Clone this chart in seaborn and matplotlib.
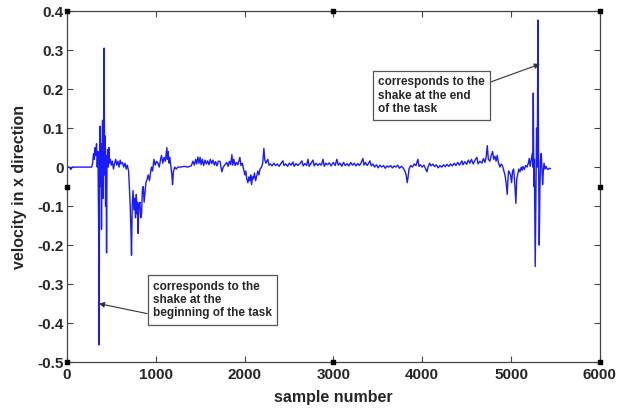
import matplotlib
matplotlib.use("Agg")
import matplotlib.pyplot as plt
import seaborn as sns
import pandas as pd

# samples / velocity, split by region
rest_x = [0, 30, 45, 60, 100, 200, 280]
rest_v = [0, 0, -0.006, 0, 0, 0, 0]

start_x = [290, 300, 310, 318, 326, 334, 342, 350, 358, 364, 368, 372, 378, 385, 390, 396,
           402, 408, 414, 420, 425, 430, 436, 442, 447, 452, 458, 465, 473, 480, 490, 500,
           512, 525, 538, 550, 562, 575, 588, 600, 612, 625, 640, 655, 668, 680]
start_v = [0.01, 0.035, 0.02, 0.05, 0.03, 0.06, 0.0, 0.04, -0.15, -0.456, 0.0, 0.105,
           -0.05, 0.06, -0.16, 0.02, 0.12, -0.08, 0.05, 0.305, -0.02, 0.08, -0.1, 0.03,
           -0.22, 0.01, 0.045, 0.0, 0.05, 0.01, 0.02, 0.005, 0.015, -0.005, 0.01, 0.02,
           0.005, 0.015, 0.0, 0.018, 0.008, 0.012, 0.0, 0.01, -0.005, 0.005]

dip_x = [695, 710, 720, 728, 736, 745, 755, 765, 773, 782, 790, 797, 803, 810, 822, 832,
         841, 850, 860, 870, 878, 890, 905, 916, 930, 945, 953, 965, 980, 995, 1010, 1025,
         1040, 1055, 1066, 1080, 1095, 1108, 1118, 1126, 1132, 1140, 1150, 1160, 1172,
         1182, 1190, 1200, 1215, 1230, 1250]
dip_v = [-0.01, -0.08, -0.15, -0.226, -0.1, -0.06, -0.11, -0.08, -0.13, -0.07, -0.12,
         -0.09, -0.17, -0.1, -0.09, -0.13, -0.12, -0.06, -0.05, -0.09, -0.07, -0.04, -0.03,
         -0.02, -0.035, -0.01, 0.0, -0.01, 0.02, 0.005, 0.015, 0.01, 0.0, 0.02, 0.03, 0.01,
         0.025, 0.015, 0.035, 0.05, 0.02, 0.04, 0.01, 0.025, 0.0, -0.02, -0.045, -0.01,
         0.0, -0.005, 0.0]

mid_x = [1280, 1320, 1360, 1400, 1419, 1435, 1450, 1462, 1475, 1488, 1500, 1512, 1525,
         1540, 1555, 1570, 1585, 1600, 1615, 1630, 1645, 1660, 1675, 1690, 1705, 1723,
         1735, 1745, 1760, 1780, 1800, 1815, 1830, 1845, 1858, 1868, 1880, 1895, 1910,
         1925, 1948, 1960, 1975, 1990, 2004, 2015, 2025, 2038, 2050, 2060, 2070, 2079,
         2090, 2100, 2112, 2125, 2140, 2150, 2162, 2175, 2192, 2205, 2218, 2228, 2240,
         2252, 2263, 2275, 2290, 2310, 2330, 2350, 2370, 2390, 2410, 2432, 2445, 2465,
         2485, 2505, 2525, 2545, 2560, 2580, 2600, 2620, 2646, 2660, 2680, 2700, 2714,
         2728, 2745, 2770, 2785, 2805, 2825, 2845, 2865, 2883, 2898, 2915, 2935, 2955,
         2975]
mid_v = [0, 0.002, 0, 0.003, 0.015, 0.005, 0.02, 0.008, 0.026, 0.01, 0.025, 0.006, 0.02,
         0.004, 0.018, 0.008, 0.016, 0.006, 0.02, 0.009, 0.018, 0.005, 0.014, 0.003, 0.015,
         0.015, 0.0, -0.012, 0.0, 0.006, 0.012, 0.002, 0.015, 0.006, 0.032, 0.005, 0.02,
         0.004, 0.012, 0.006, 0.025, 0.004, 0.01, -0.005, -0.02, -0.01, -0.03, -0.04,
         -0.025, -0.035, -0.02, -0.045, -0.025, -0.03, -0.015, -0.035, -0.02, -0.01,
         -0.02, -0.005, 0.0, 0.01, 0.048, 0.02, 0.01, 0.015, 0.02, 0.005, 0.008, 0.003,
         0.01, 0.004, 0.008, 0.002, 0.009, 0.016, 0.004, 0.008, 0.002, 0.01, 0.005, 0.013,
         0.002, 0.009, 0.004, 0.008, 0.016, 0.003, 0.009, 0.004, 0.02, 0.002, 0.008, 0.018,
         0.003, 0.01, 0.004, 0.009, 0.005, 0.02, 0.002, 0.01, 0.006, 0.011, 0.003]

late_x = [3000, 3020, 3040, 3055, 3075, 3095, 3115, 3135, 3155, 3175, 3195, 3215, 3235,
          3255, 3275, 3295, 3315, 3333, 3345, 3362, 3380, 3398, 3412, 3428, 3445, 3465,
          3485, 3505, 3525, 3545, 3565, 3585, 3605, 3625, 3645, 3665, 3685, 3705, 3725,
          3745, 3765, 3785, 3805, 3820, 3832, 3842, 3852, 3870, 3890, 3910, 3930, 3952,
          3965, 3980, 4000, 4020, 4040, 4054, 4068, 4085, 4100, 4120, 4140, 4160, 4180,
          4200, 4220, 4240, 4260, 4280, 4300, 4320, 4340, 4360, 4380, 4400, 4420, 4447,
          4460, 4480, 4500, 4520, 4537, 4555, 4575, 4595, 4616, 4630, 4650, 4673, 4690,
          4707]
late_v = [0.012, 0.004, 0.02, 0.005, 0.01, 0.002, 0.012, 0.004, 0.009, 0.003, 0.012,
          0.005, 0.01, 0.003, 0.009, 0.004, 0.012, 0.022, 0.005, 0.012, 0.004, 0.01, 0.016,
          0.003, 0.008, 0.0, 0.006, -0.002, 0.005, 0.0, 0.004, -0.003, 0.003, 0.0, 0.004,
          -0.002, 0.003, 0.0, 0.005, -0.003, 0.002, -0.002, -0.01, -0.02, -0.04, -0.025,
          -0.005, 0.004, 0.0, 0.008, 0.004, 0.02, 0.002, 0.006, 0.0, 0.005, -0.005, -0.012,
          0.002, 0.01, 0.003, 0.008, 0.001, 0.006, -0.002, 0.004, 0.0, 0.006, 0.001, 0.007,
          0.002, 0.008, 0.003, 0.01, 0.004, 0.012, 0.005, 0.016, 0.006, 0.014, 0.007, 0.018,
          0.01, 0.02, 0.008, 0.018, 0.025, 0.008, 0.015, 0.01, 0.022, 0.012]

end_x = [4720, 4733, 4745, 4763, 4778, 4793, 4805, 4819, 4832, 4845, 4860, 4876, 4890,
         4905, 4920, 4932, 4945, 4958, 4966, 4973, 4985, 4995, 5007, 5018, 5030, 5045,
         5055, 5065, 5075, 5088, 5101, 5115, 5125, 5135, 5150, 5165, 5180, 5195, 5206,
         5215, 5225, 5240, 5246, 5251, 5257, 5263, 5273, 5280, 5288, 5296, 5303, 5310,
         5318, 5326, 5333, 5341, 5348, 5356, 5364, 5372, 5382, 5393, 5405, 5419, 5432,
         5446]
end_v = [0.025, 0.055, 0.02, 0.015, 0.03, 0.04, 0.02, 0.028, 0.015, 0.03, 0.01, 0.0,
         0.008, 0.003, -0.01, -0.02, -0.04, -0.07, -0.03, -0.01, -0.015, -0.02, -0.04,
         -0.01, -0.005, -0.05, -0.093, -0.03, -0.02, -0.005, -0.012, 0.0, -0.008, 0.002,
         -0.006, 0.004, 0.0, 0.01, 0.022, 0.002, 0.015, 0.035, 0.0, 0.19, -0.05, 0.02,
         -0.255, -0.1, 0.1, 0.0, 0.377, 0.05, -0.2, -0.05, 0.02, 0.035, 0.0, -0.045, -0.01,
         0.01, -0.005, 0.002, -0.004, -0.006, -0.003, -0.004]

xticks = [0, 1000, 2000, 3000, 4000, 5000, 6000]
yticks = [-0.5, -0.4, -0.3, -0.2, -0.1, 0, 0.1, 0.2, 0.3, 0.4]
ytick_labels = ["-0.5", "-0.4", "-0.3", "-0.2", "-0.1", "0", "0.1", "0.2", "0.3", "0.4"]

note_start = "corresponds to the\nshake at the\nbeginning of the task"
note_end = "corresponds to the\nshake at the end\nof the task"

df = pd.DataFrame({
    "sample": rest_x + start_x + dip_x + mid_x + late_x + end_x,
    "velocity": rest_v + start_v + dip_v + mid_v + late_v + end_v,
})

sns.set_style("ticks")
plt.rcParams["font.family"] = ["Liberation Sans", "DejaVu Sans"]
plt.rcParams["font.weight"] = "bold"

fig = plt.figure(figsize=(6.19, 4.11), dpi=100)
ax = fig.add_axes([0.108, 0.119, 0.861, 0.854])

sns.lineplot(data=df, x="sample", y="velocity", estimator=None, sort=False,
             color="#1a1aff", linewidth=1.0, ax=ax)

ax.set_xlim(0, 6000)
ax.set_ylim(-0.5, 0.4)
ax.set_xticks(xticks)
ax.set_xticklabels([str(t) for t in xticks])
ax.set_yticks(yticks)
ax.set_yticklabels(ytick_labels)
ax.tick_params(direction="in", length=4, width=0.8, top=True, right=True,
               labelsize=11, pad=2, color="#444444")
ax.tick_params(axis="x", pad=4)
for lab in ax.get_xticklabels() + ax.get_yticklabels():
    lab.set_fontweight("bold")
for sp in ax.spines.values():
    sp.set_visible(True)
    sp.set_color("#444444")
    sp.set_linewidth(0.9)

ax.set_xlabel("sample number", fontsize=11.5, fontweight="bold", labelpad=6)
ax.set_ylabel("velocity in x direction", fontsize=11.5, fontweight="bold", labelpad=8)

# MATLAB selection handles on the frame
xmid = sum(ax.get_xlim()) / 2
ymid = sum(ax.get_ylim()) / 2
hx = [0, xmid, 6000, 0, 6000, 0, xmid, 6000]
hy = [0.4, 0.4, 0.4, ymid, ymid, -0.5, -0.5, -0.5]
ax.scatter(hx, hy, marker="s", s=9, color="black", clip_on=False, zorder=5)

box = dict(boxstyle="square,pad=0.45", fc="white", ec="#555555", lw=0.9)
arrow = dict(arrowstyle="-|>", color="#333333", lw=0.8, mutation_scale=8,
             shrinkA=0, shrinkB=0)

ax.annotate(note_start, xy=(360, -0.35), xytext=(968, -0.341),
            fontsize=8.5, fontweight="bold", ha="left", va="center",
            linespacing=1.15, bbox=box,
            arrowprops=dict(arrow, relpos=(0, 0.12)))
ax.annotate(note_end, xy=(5326, 0.264), xytext=(3503, 0.183),
            fontsize=8.5, fontweight="bold", ha="left", va="center",
            linespacing=1.15, bbox=box,
            arrowprops=dict(arrow, relpos=(1, 0.8)))

fig.savefig("out.png", dpi=100)
